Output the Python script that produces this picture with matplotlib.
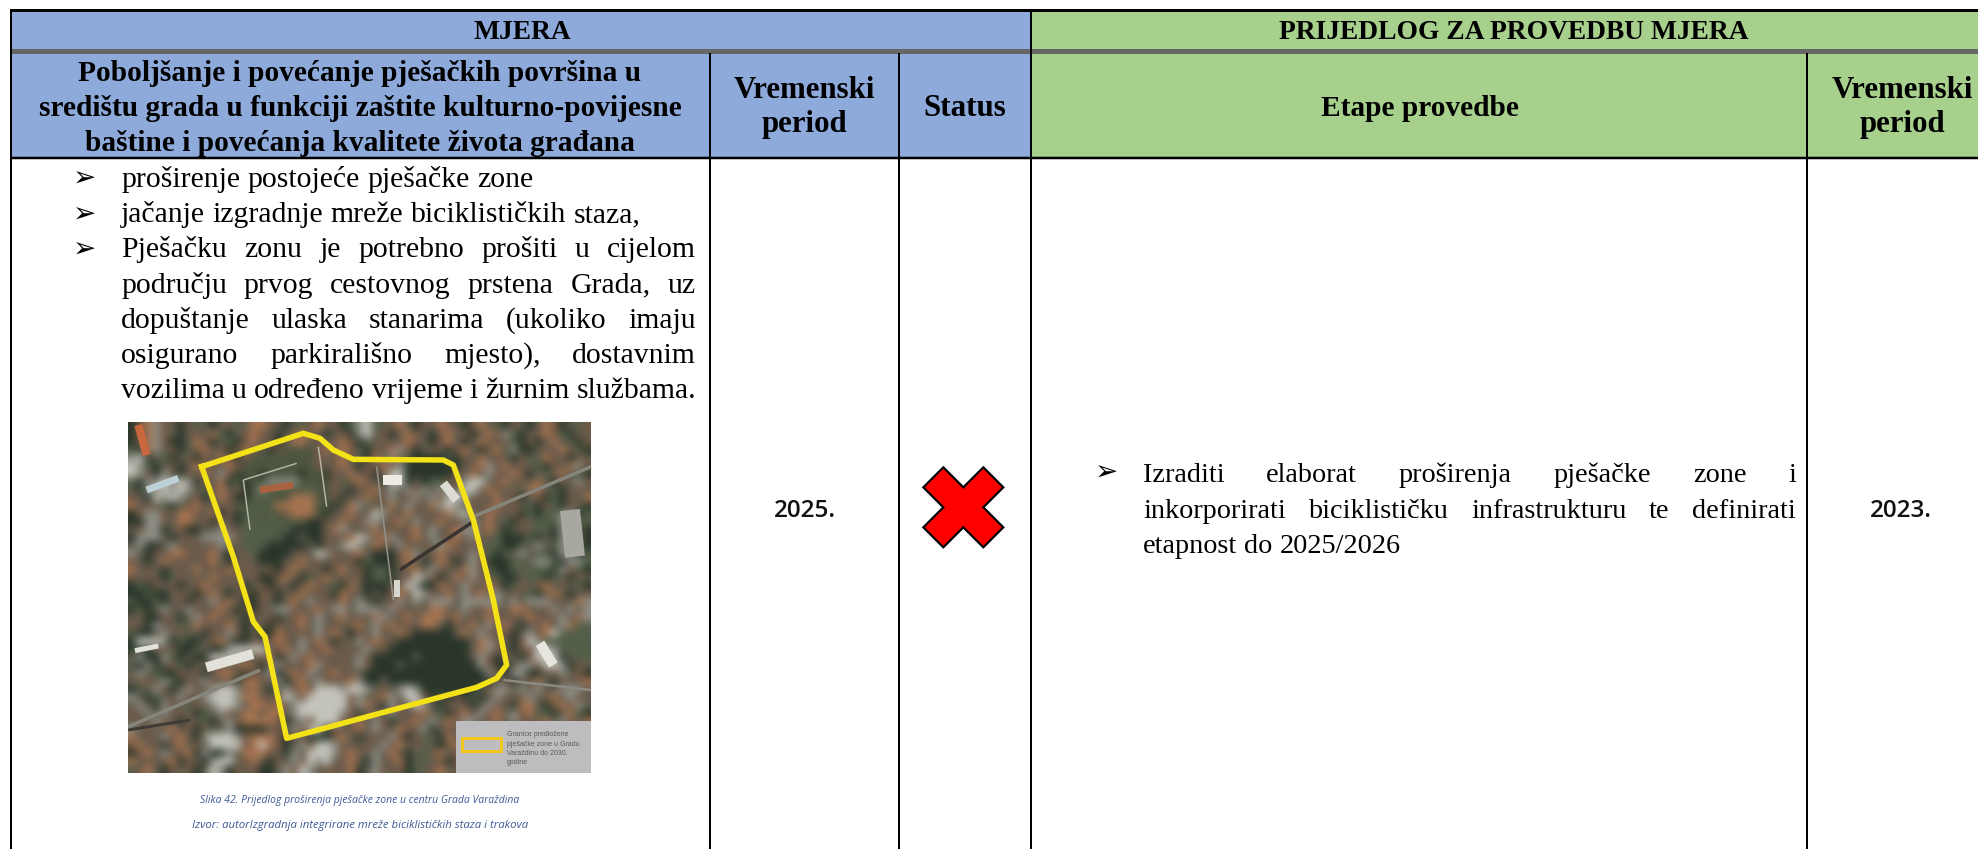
import numpy as np
import matplotlib
matplotlib.use("Agg")
import matplotlib.pyplot as plt
from matplotlib.colors import to_rgb
from matplotlib.patches import Polygon, Rectangle

W, H = 1978, 849
SERIF = "Liberation Serif"

top_left = "MJERA"
top_right = "PRIJEDLOG ZA PROVEDBU MJERA"
measure_title = ["Poboljšanje i povećanje pješačkih površina u",
                 "središtu grada u funkciji zaštite kulturno-povijesne",
                 "baštine i povećanja kvalitete života građana"]
period_head = ["Vremenski", "period"]
status_head = "Status"
stage_head = "Etape provedbe"
measure_lines = ["proširenje postojeće pješačke zone",
                 "jačanje izgradnje mreže biciklističkih staza,",
                 "Pješačku zonu je potrebno prošiti u cijelom",
                 "području prvog cestovnog prstena Grada, uz",
                 "dopuštanje ulaska stanarima (ukoliko imaju",
                 "osigurano parkirališno mjesto), dostavnim",
                 "vozilima u određeno vrijeme i žurnim službama."]
stage_lines = ["Izraditi elaborat proširenja pješačke zone i",
               "inkorporirati biciklističku infrastrukturu te definirati",
               "etapnost do 2025/2026"]
measure_period = "2025."
stage_period = "2023."
captions = ["Slika 42. Prijedlog proširenja pješačke zone u centru Grada Varaždina",
            "Izvor: autorIzgradnja integrirane mreže biciklističkih staza i trakova"]
map_legend = ["Granice predložene", "pješačke zone u Gradu", "Varaždinu do 2030.", "godine"]

MAP_GRID = [
    "dbolbmdbgmdmbgmoobmdmgbombdglwgmbomdbmobmdbomgdbmdmobdmgb",
    "dbolbmdmbmogdmbobmdmbobmdmbdlwmbdmobmdbombdmoblgdmbobgdbm",
    "dbolbddmobdmgdbombdmoombmbobdgmbmbobmdbomdmobmbgdbdmomgdb",
    "gdolmbdgbombdbobmdbffffbomobgdbmolbdmbmdbomdboglddmbmobgd",
    "lwdmgdmbdbmobdbffffffffbmbobmdomlbgddddgdbmombmdbgmobmdbm",
    "wlgdmbdmobbmobfffffffffbmbomdbmobldddddddmbolbombmgdbmolb",
    "wlbdlmdbmomlbdffdffffdffdbmombdbwwddddddbmomlbmobdmgbomgd",
    "gdllwlwldbmodgdffllllffffbgbobmdwwdmdggbmlwwmbombmomdbmlb",
    "mdllwlwlmgbombdflgfffggffbmdmbomlmlblmlmbwwmobmbgoomgdmbm",
    "bmdwlwlmbdmobddgfgffoooffbdmbomblmblmlbwwlmbmombdmbdgdbgo",
    "ombmgdmbombmbgfggfoooooffdmolgbmomlbmolwlmbmbombmgdbgdbmd",
    "dbllbmoobmodbdggfgfbooofdmbombwlbmombmbolwbmobmbdgdgglldg",
    "ddllbmoombdbmdggfggfgfddbmombllmbomlmbombmlmomgdbmgggllmg",
    "mblldmbddmmlbmggggfgddddmolmmbombmbomlmbollbomdgbmggdllgd",
    "dlllmdmbmllllbgggggddmddbmbowlbolmbomlmbomlbmgdddgdmdllbd",
    "mlddmlbmbmblbmgggdddddmdbmlwlmobmlbmbmlobmbmggddgmlmgllgd",
    "lmdbmoobmbomdbmgddddmbmwlbmbomdddbolmbombmlbgdgmlmggdlldg",
    "bmdmobmbmbomdmbmdddmbombmbmbdgdddbomdmobdmlbdddggmllgdllg",
    "ombmdmbmombmobmbmbdbombmdbombdggdmbomlbmmolbgddgmgggdlbgd",
    "bmbmdgbmbmobmbmbddbomdgbombmbdggdmbwlbdmoblbmgddmggdgmdbm",
    "dgdbmbdmbombmbdmbdbmdbobmgdomdddmbwlddobmlbmobdgbmbombmgd",
    "ddgddmbmdbomdmbdbbdmbombmdobmdmdbobwlbmomlbomlmbmgdbomdmb",
    "gddgdmbdbmlbomddbmdbomlmbmomlmdmblmlmlllmlllllmlmlllmbmol",
    "dgdmlmmlbmbomdbdbmllbmbomllmlllmlbmbmoobmlbmobmoobmblmlml",
    "mbddbmdmlbombmdbmbdmbomlmbombmolmbomooomombmobmbmobmblmol",
    "bmdlmbgmobmbomdmbdbmbomlmbmbomlbombmoomdbmomlbomdmbomlogg",
    "gddmlmbgmdbmlbdmddobmbmlbomdbmlbmobdddddmomlbmbdmlbowgggg",
    "dwwwldgddmbomddbmbobmlbomdbmlbobmdddddddddmolbmdbwlgfgggg",
    "dgdbmbddgmddlwwwwmbomlmbobmbmlmbddddddddddmolbmdbbwwlgggg",
    "mlddlgdmddwwwlbmbodmlbombmbmlbdddddgddddddmlbdbmdbwwwdmgg",
    "gdldmbgdmmbbmbobdmlbmbolbmbmlbdddgdddddddddlbddmllbwwldbm",
    "mlmgddbmbdmoomdbmldmoblmbombmdddddddddddddddlbdllddmblmbd",
    "mbbmlgdbmlbmbdoobmldbomlbmbolddmdddddddddddddmbdmbomdbmbo",
    "dgmlbdmlbmlwwlbomdmlbobwwwlwwlmbmlwldddddddmbllmlmlmmlllm",
    "lmdgmmlbmlwwwloobmbwlbwwwwwblmbolmwwbdgdbdgdmlbmblmbomlbm",
    "mlmdlbmgbmlwwlmoobomlwwwwwwblomdlbmwlmdbmbdmlbmdoomdboblm",
    "bmlmlmbmdgmlbmoomoomlwwwwwlbdmbmlbmbomgdbomlbomlboggdmogd",
    "mbmlbmdbmgdmlboooobdmlbwwwbmomlbdmbomlmobllmbomlbmbomlbmo",
    "lmbmbombdbgmlddddmbmlbwwdbmbomlbmobmldmbmlmbomdbmobmlbomb",
    "ombmlbomdlwwwlbooobdmbdddbomdmbmlbdbgmdombmlbomdbombmdbom",
    "bombdbombmwwwwbowobdmlbwwlbmmbmlbombmgdbombmlbomgdbombmlb",
    "dbomlmbodlddlmooobmdlmwwwlbobmlmomdmgbombmbdmbombdgmbomdb",
    "ombmbodbmdlwwmbomdbmlbwlwmbomdlmbodmgmbdbmbombdmbomgbdmbo",
    "gbomdbmbdmwldbmbddmlbwlmbbmodmlbmbdgmbombdbmgdbombmdbombd",
]
PALETTE = {"o": "#a67350", "b": "#735a47", "m": "#625c4e", "d": "#2a362a", "g": "#535f49",
           "f": "#4e5640", "l": "#8e8e85", "w": "#c4c4bb"}

# Map features, in (x, y) of the zoomed map frame, with (colour, width)
ROADS = [
    ([(1120, 320), (1473, 170)], "#85857c", 3.5),
    ([(900, 480), (1120, 335)], "#3a3330", 3.5),
    ([(85, 950), (480, 780)], "#85857c", 3.5),
    ([(85, 960), (270, 930)], "#403a36", 3),
    ([(830, 170), (880, 570)], "#92928a", 1.6),
    ([(1210, 810), (1473, 840)], "#8a8a82", 2.5),
    ([(430, 210), (590, 160)], "#b4b4a7", 1.5),
    ([(430, 210), (450, 360)], "#b4b4a7", 1.5),
    ([(655, 110), (680, 290)], "#b4b4a7", 1.5),
    ([(115, 45), (140, 135)], "#c9683f", 8),
    ([(140, 240), (235, 205)], "#bcd0d6", 7),
    ([(319, 772), (459, 732)], "#e2e2da", 10),
    ([(105, 722), (175, 708)], "#e2e2da", 5),
    ([(850, 210), (905, 210)], "#ecece4", 10),
    ([(1030, 220), (1070, 270)], "#dcdcd4", 9),
    ([(1410, 300), (1425, 440)], "#a8a8a0", 20),
    ([(1320, 700), (1360, 765)], "#e6e6de", 10),
    ([(480, 240), (580, 225)], "#a9623f", 7),
    ([(890, 510), (890, 560)], "#d6d6ce", 6),
]
ZONE_BORDER = [(305, 170), (610, 70), (660, 85), (700, 120), (760, 148), (1030, 150), (1060, 165),
               (1120, 330), (1180, 570), (1220, 765), (1190, 805), (1130, 832), (560, 985),
               (495, 680), (460, 635), (400, 440), (305, 170)]
CROSS = [(130, 82), (190, 142), (250, 82), (310, 142), (250, 202), (310, 262), (250, 322),
         (190, 262), (130, 322), (70, 262), (130, 202), (70, 142)]


def mp(p):
    """Zoomed map frame to page pixels."""
    return [(100 + x / 3, 410 + y / 3) for x, y in p]


fig = plt.figure(figsize=(W / 100, H / 100), dpi=100, facecolor="white")
ax = fig.add_axes([0, 0, 1, 1])
ax.set_xlim(0, W)
ax.set_ylim(H, 0)
ax.axis("off")
rend = fig.canvas.get_renderer()
LW = 72 / 100  # points per pixel

BLUE, GREEN = "#8EAADB", "#A8D08D"
X0, X1, X2, X3, X4 = 11, 710, 899, 1031, 1807

# Header fills
ax.add_patch(Rectangle((X0, 10), X3 - X0, 148, fc=BLUE, ec="none"))
ax.add_patch(Rectangle((X3, 10), W - X3, 148, fc=GREEN, ec="none"))

# Rules
ax.plot([X0, W], [10, 10], color="black", lw=3 * LW, solid_capstyle="butt")
ax.plot([X0, W], [50.5, 50.5], color="#666666", lw=5 * LW, solid_capstyle="butt")
ax.plot([X0, W], [158, 158], color="black", lw=2.5 * LW, solid_capstyle="butt")
ax.plot([X0, X0], [9, H], color="black", lw=2 * LW, solid_capstyle="butt")
ax.plot([X3, X3], [10, H], color="black", lw=2 * LW, solid_capstyle="butt")
for x in (X1, X2, X4):
    ax.plot([x, x], [53, H], color="black", lw=2 * LW, solid_capstyle="butt")

HEAD = dict(family=SERIF, weight="bold", color="black", ha="center", va="baseline")
ax.text(522, 39, top_left, fontsize=19.8, **HEAD)
ax.text(1514, 39, top_right, fontsize=19.8, **HEAD)
for s, y in zip(measure_title, (81, 116, 151)):
    ax.text(360, y, s, fontsize=21.2, **HEAD)
for cx in (804, 1902):
    for s, y in zip(period_head, (98, 132)):
        ax.text(cx, y, s, fontsize=22.2, **HEAD)
ax.text(965, 116, status_head, fontsize=22.2, **HEAD)
ax.text(1420, 116, stage_head, fontsize=21.2, **HEAD)


def justified(s, x0, x1, y, size):
    """Lay a line out word by word so that it fills x0..x1; no x1 leaves it natural."""
    words = s.split(" ")
    items = [ax.text(0, y, w, family=SERIF, fontsize=size, color="black", ha="left", va="baseline")
             for w in words]
    widths = [t.get_window_extent(rend).width for t in items]
    probe_a = ax.text(0, y, "a a", family=SERIF, fontsize=size)
    probe_b = ax.text(0, y, "aa", family=SERIF, fontsize=size)
    space = probe_a.get_window_extent(rend).width - probe_b.get_window_extent(rend).width
    probe_a.remove()
    probe_b.remove()
    gap = space if x1 is None else (x1 - x0 - sum(widths)) / max(len(words) - 1, 1)
    x = x0
    for t, w in zip(items, widths):
        t.set_x(x)
        x += w + gap


BODY = 21.4
measure_right = [None, None, 696, 696, 696, 696, 696]
for i, (s, r) in enumerate(zip(measure_lines, measure_right)):
    y = 187 + 35.17 * i
    justified(s, 121, r, y, BODY)
    if i < 3:
        ax.text(85, y - 8, "\u27a2", family="DejaVu Sans", fontsize=20, ha="center", va="center", color="black")

stage_right = [1796, 1796, None]
for i, (s, r) in enumerate(zip(stage_lines, stage_right)):
    justified(s, 1143, r, 482 + 35.5 * i, 20.3)
ax.text(1107, 473, "\u27a2", family="DejaVu Sans", fontsize=20, ha="center", va="center", color="black")

NUM = dict(family="Open Sans", weight="semibold", fontsize=17.5, ha="center", va="center", color="#111111")
ax.text(805, 511, measure_period, **NUM)
ax.text(1901, 511, stage_period, **NUM)

# Status cross
ax.add_patch(Polygon([(900 + x / 3, 440 + y / 3) for x, y in CROSS], closed=True,
                     fc="#FF0000", ec="black", lw=2.2 * LW, joinstyle="miter"))

# Map
grid = np.array([[to_rgb(PALETTE[c]) for c in row.ljust(57, "m")[:57]] for row in MAP_GRID])
ax.imshow(grid, extent=(128, 591, 773, 422), interpolation="bicubic", aspect="auto", zorder=1)
ax.set_xlim(0, W)
ax.set_ylim(H, 0)
for pts, col, w in ROADS:
    xy = np.array(mp(pts))
    ax.plot(xy[:, 0], xy[:, 1], color=col, lw=w * LW, solid_capstyle="butt", zorder=2)
zone = np.array(mp(ZONE_BORDER))
ax.plot(zone[:, 0], zone[:, 1], color="#F4E218", lw=5.5 * LW, solid_joinstyle="round", zorder=3)

ax.add_patch(Rectangle((455.5, 721), 135.5, 52, fc="#BDBDC0", ec="none", zorder=4))
ax.add_patch(Rectangle((461.5, 738), 39, 13, fc="none", ec="#F2C81E", lw=3 * LW, zorder=5))
for s, y in zip(map_legend, (735, 744, 753.5, 762.5)):
    ax.text(507, y, s, family="Liberation Sans", fontsize=5, color="#5a5a5a", ha="left", va="center", zorder=5)

for s, size, y in zip(captions, (7.5, 8.2), (803, 828)):
    ax.text(360, y, s, family="Open Sans", style="italic", fontsize=size, color="#3E5A94", ha="center", va="baseline")

fig.savefig("out.png", dpi=100, facecolor="white")
